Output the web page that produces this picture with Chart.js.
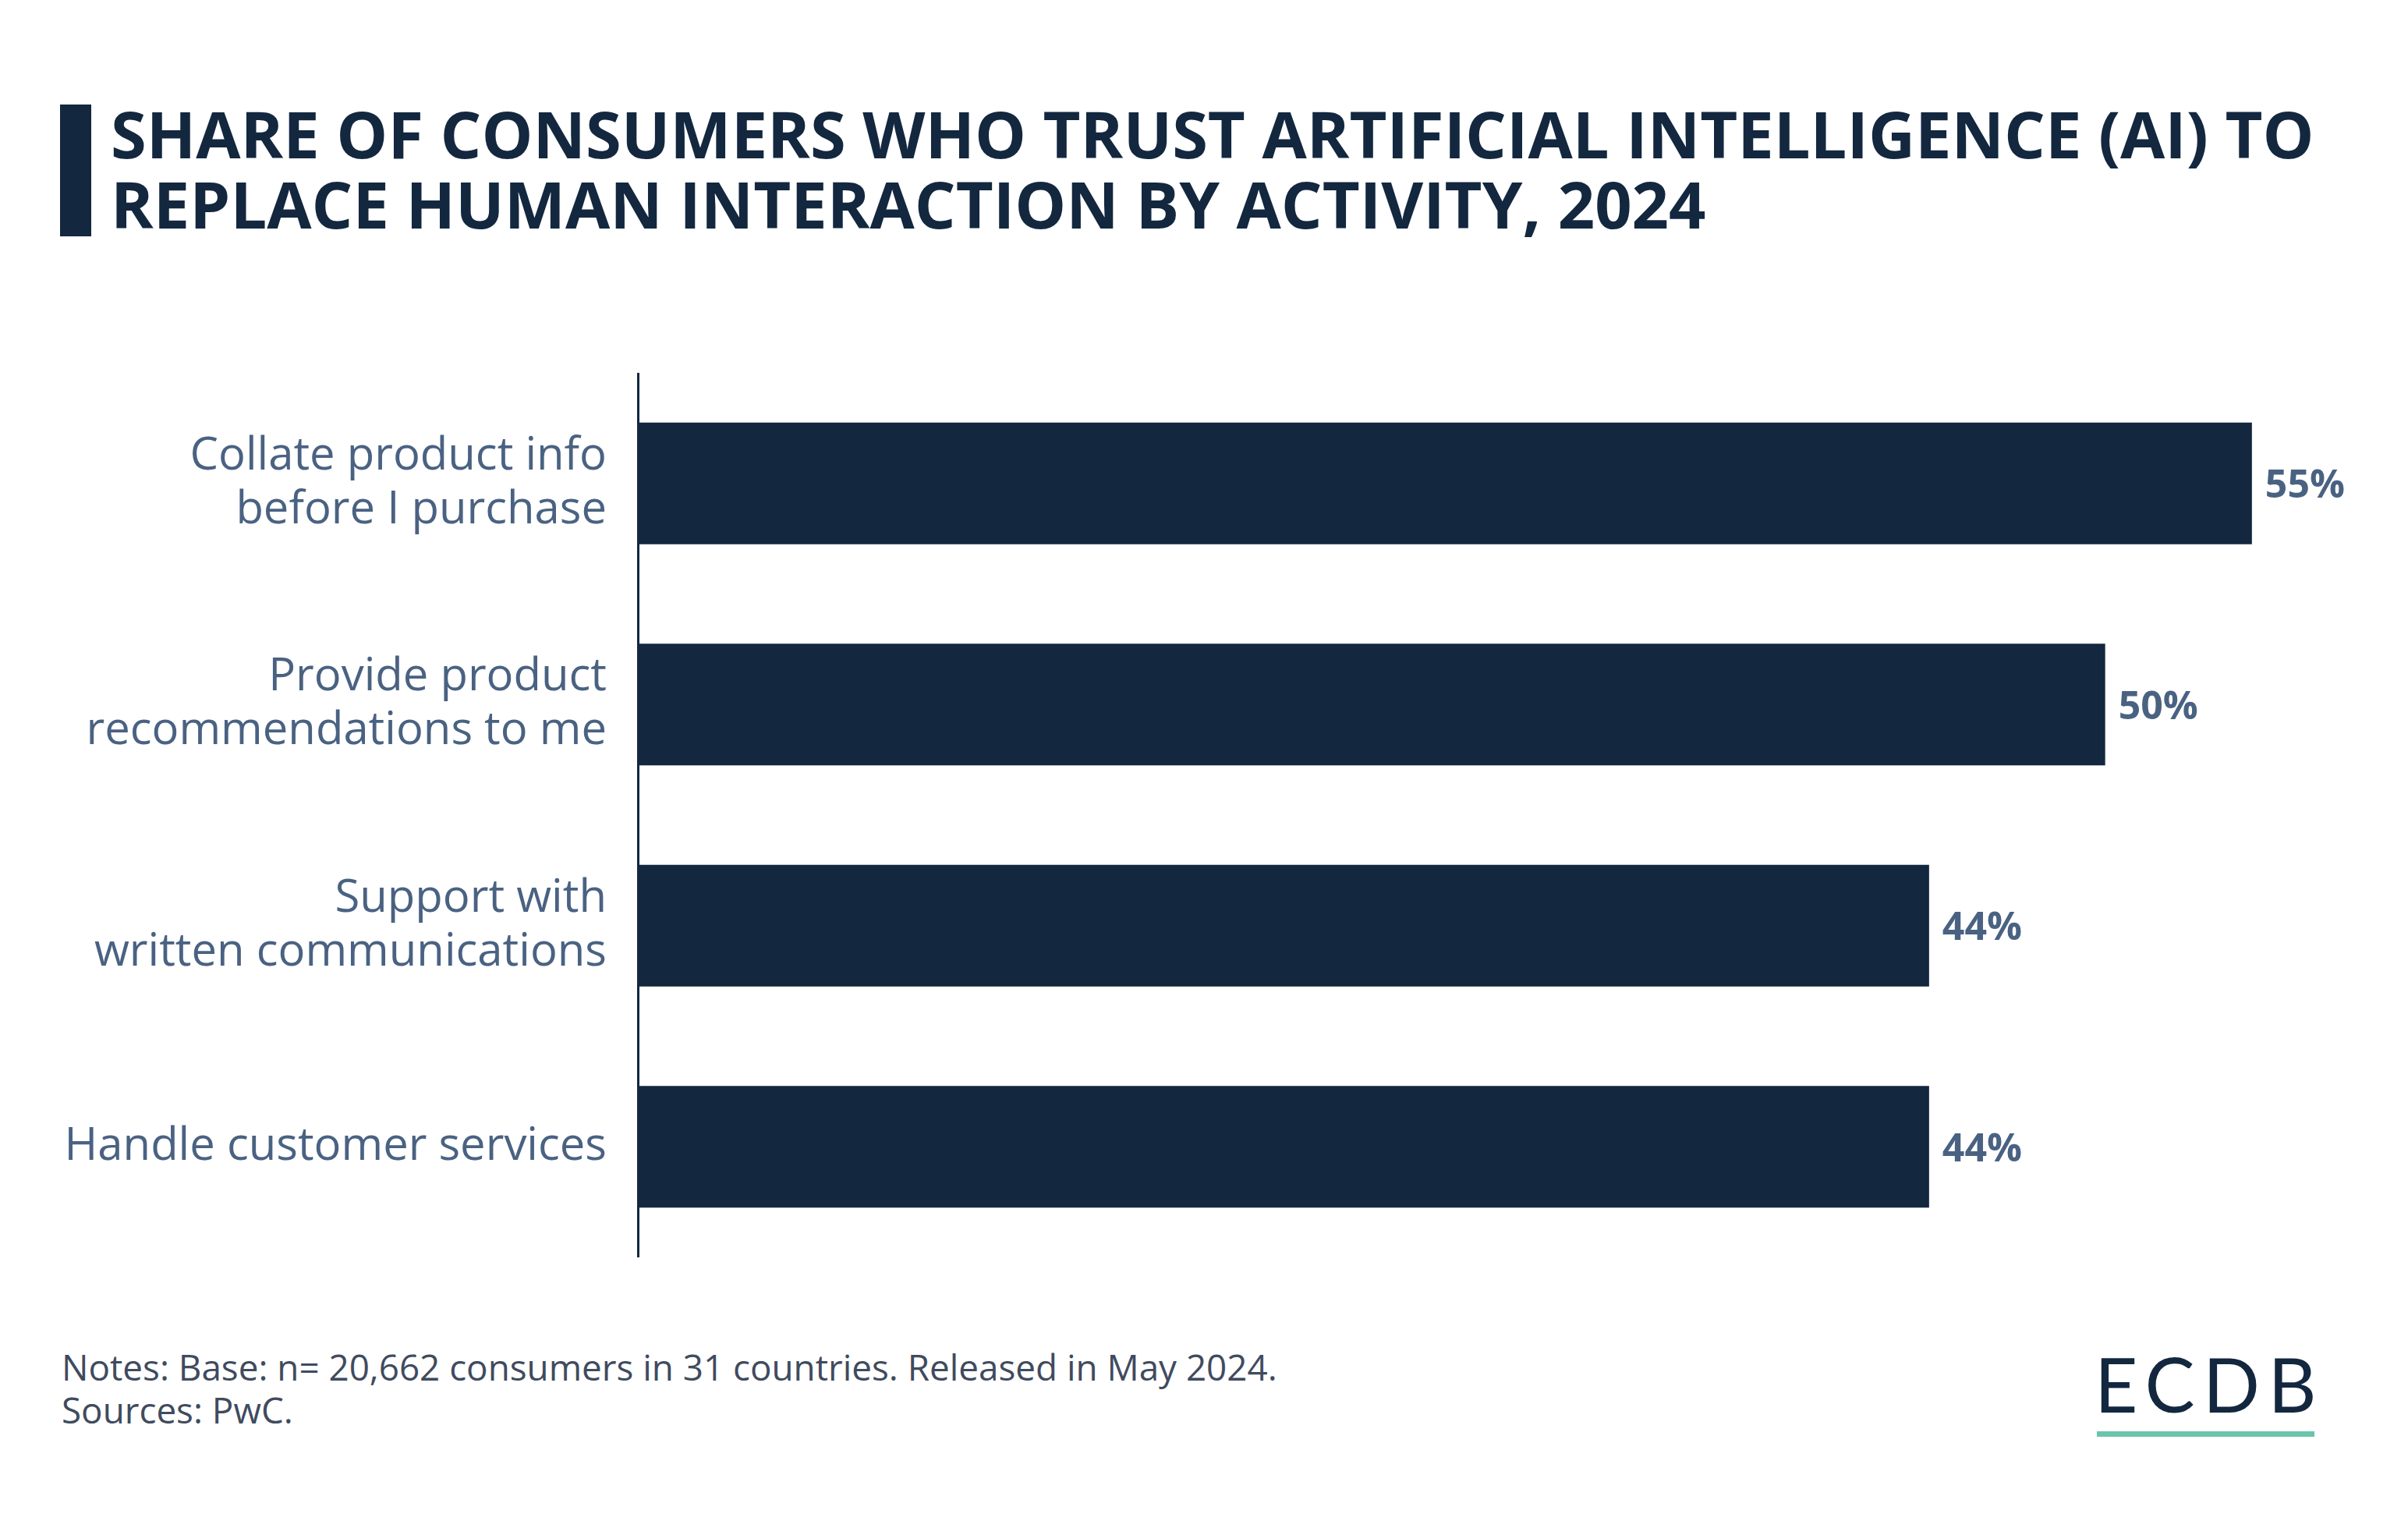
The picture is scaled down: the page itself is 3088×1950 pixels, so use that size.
<!DOCTYPE html>
<html>
<head>
<meta charset="utf-8">
<script src="https://cdn.jsdelivr.net/npm/chart.js@4"></script>
<style>
  html, body { margin: 0; padding: 0; background: #ffffff; }
  body { width: 3088px; height: 1950px; position: relative; overflow: hidden; font-family: "Open Sans", sans-serif; }
  #title-bar { position: absolute; left: 77px; top: 134px; width: 40px; height: 169px; background: #13273f; }
  #title { position: absolute; left: 142px; top: 126px; font-size: 83px; line-height: 90px; font-weight: 700; color: #13273f; white-space: nowrap; }
  #chart-wrap { position: absolute; left: 0; top: 478px; width: 3088px; height: 1134px; }
  #notes { position: absolute; left: 79px; top: 1725px; font-size: 45.8px; line-height: 55px; color: #3f4b5e; white-space: nowrap; }
  #logo { position: absolute; left: 2686px; top: 1724px; font-family: Lato, sans-serif; font-size: 96px; line-height: 100px; font-weight: 400; color: #13273f; letter-spacing: 10.5px; }
  #logo-line { position: absolute; left: 2689px; top: 1835px; width: 279px; height: 7px; background: #6cc4ad; }
</style>
</head>
<body>
<div id="title-bar"></div>
<div id="title">SHARE OF CONSUMERS WHO TRUST ARTIFICIAL INTELLIGENCE (AI) TO<br>REPLACE HUMAN INTERACTION BY ACTIVITY, 2024</div>
<div id="chart-wrap"><canvas id="chart"></canvas></div>
<div id="notes">Notes: Base: n= 20,662 consumers in 31 countries. Released in May 2024.<br>Sources: PwC.</div>
<div id="logo">ECDB</div>
<div id="logo-line"></div>
<script>
// Chart data
const categories = [
  ['Collate product info', 'before I purchase'],
  ['Provide product', 'recommendations to me'],
  ['Support with', 'written communications'],
  'Handle customer services'
];
const shares = [55, 50, 44, 44];

// Draw the value labels at the end of each bar
const valueLabels = {
  id: 'valueLabels',
  afterDatasetsDraw(chart) {
    const ctx = chart.ctx;
    const meta = chart.getDatasetMeta(0);
    ctx.save();
    ctx.font = '700 50px "Open Sans"';
    ctx.fillStyle = '#4a6282';
    ctx.textAlign = 'left';
    ctx.textBaseline = 'middle';
    meta.data.forEach((bar, i) => {
      ctx.fillText(shares[i] + '%', bar.x + 17, bar.y + 4);
    });
    ctx.restore();
  }
};

new Chart(document.getElementById('chart'), {
  type: 'bar',
  data: {
    labels: categories,
    datasets: [{
      data: shares,
      backgroundColor: '#13273f',
      categoryPercentage: 1,
      barPercentage: 0.55
    }]
  },
  options: {
    indexAxis: 'y',
    responsive: true,
    maintainAspectRatio: false,
    animation: false,
    layout: { padding: { top: 0, bottom: 0, left: 0, right: 12 } },
    plugins: {
      legend: { display: false },
      tooltip: { enabled: false }
    },
    scales: {
      x: {
        display: false,
        min: 0,
        max: 60
      },
      y: {
        afterFit(scale) {
          scale.width = 818;
          // keep the axis the full height of the box
          scale.paddingTop = 0;
          scale.paddingBottom = 0;
        },
        grid: { display: false, drawTicks: false },
        border: { display: true, color: '#13273f', width: 3 },
        ticks: {
          padding: 40,
          color: '#4a6282',
          font: { family: 'Open Sans', size: 58, lineHeight: 1.19 }
        }
      }
    }
  },
  plugins: [valueLabels]
});
</script>
</body>
</html>
